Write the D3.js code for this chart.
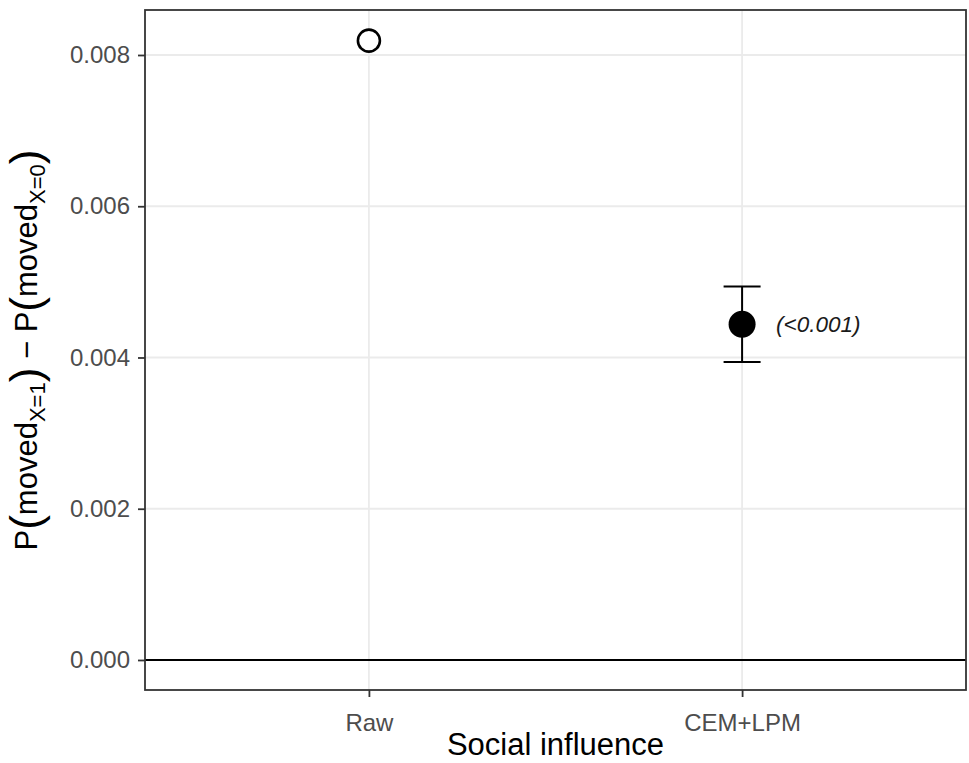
<!DOCTYPE html>
<html>
<head>
<meta charset="utf-8">
<script src="https://cdn.jsdelivr.net/npm/d3@7"></script>
<style>
  body { margin: 0; background: #fff; }
  svg { font-family: Arial, "Liberation Sans", sans-serif; }
</style>
</head>
<body>
<svg id="viz"></svg>
<script>
// data
const categories = ["Raw", "CEM+LPM"]
const estimates = [0.00819, 0.00444]
const lower = [null, 0.00394]
const upper = [null, 0.00494]
const filled = [false, true]
const pLabels = [null, "(<0.001)"]
const yTicks = [0, 0.002, 0.004, 0.006, 0.008]

const W = 969, H = 763
const margin = { top: 10, right: 3, bottom: 73, left: 145 }

const svg = d3.select("#viz").attr("width", W).attr("height", H)

const x = d3.scalePoint()
  .domain(categories)
  .range([margin.left, W - margin.right])
  .padding(0.6)

const y = d3.scaleLinear()
  .domain([-0.000397, 0.008595])
  .range([H - margin.bottom, margin.top])

const pw = W - margin.right - margin.left
const ph = H - margin.bottom - margin.top

// grid
svg.append("g").selectAll("line").data(yTicks).join("line")
  .attr("x1", margin.left).attr("x2", W - margin.right)
  .attr("y1", d => y(d)).attr("y2", d => y(d))
  .attr("stroke", "#ebebeb").attr("stroke-width", 1.8)
svg.append("g").selectAll("line").data(categories).join("line")
  .attr("x1", d => x(d)).attr("x2", d => x(d))
  .attr("y1", margin.top).attr("y2", H - margin.bottom)
  .attr("stroke", "#ebebeb").attr("stroke-width", 1.8)

// zero line
svg.append("line")
  .attr("x1", margin.left).attr("x2", W - margin.right)
  .attr("y1", y(0)).attr("y2", y(0))
  .attr("stroke", "#000").attr("stroke-width", 2)

// axes
const yAxis = svg.append("g")
  .attr("transform", `translate(${margin.left},0)`)
  .call(d3.axisLeft(y).tickValues(yTicks).tickFormat(d3.format(".3f")).tickSize(7).tickPadding(8))
const xAxis = svg.append("g")
  .attr("transform", `translate(0,${H - margin.bottom})`)
  .call(d3.axisBottom(x).tickSize(7).tickPadding(17))
;[yAxis, xAxis].forEach(g => {
  g.attr("font-family", null).attr("font-size", null)
  g.select(".domain").remove()
  g.selectAll(".tick line").attr("stroke", "#333").attr("stroke-width", 1.8)
  g.selectAll(".tick text").attr("fill", "#4d4d4d").attr("font-size", 24)
})

// panel border
svg.append("rect")
  .attr("x", margin.left).attr("y", margin.top)
  .attr("width", pw).attr("height", ph)
  .attr("fill", "none").attr("stroke", "#333").attr("stroke-width", 1.8)

// error bars
const rows = categories.map((c, i) => ({ c, est: estimates[i], lo: lower[i], hi: upper[i], filled: filled[i], p: pLabels[i] }))
const eb = svg.append("g").selectAll("g").data(rows.filter(d => d.lo != null)).join("g")
  .attr("stroke", "#000").attr("stroke-width", 2)
eb.append("line").attr("x1", d => x(d.c)).attr("x2", d => x(d.c))
  .attr("y1", d => y(d.lo)).attr("y2", d => y(d.hi))
eb.append("line").attr("x1", d => x(d.c) - 18.5).attr("x2", d => x(d.c) + 18.5)
  .attr("y1", d => y(d.hi)).attr("y2", d => y(d.hi))
eb.append("line").attr("x1", d => x(d.c) - 18.5).attr("x2", d => x(d.c) + 18.5)
  .attr("y1", d => y(d.lo)).attr("y2", d => y(d.lo))

// points
svg.append("g").selectAll("circle").data(rows).join("circle")
  .attr("cx", d => x(d.c)).attr("cy", d => y(d.est))
  .attr("r", d => d.filled ? 13.5 : 11)
  .attr("fill", d => d.filled ? "#000" : "#fff")
  .attr("stroke", "#000").attr("stroke-width", d => d.filled ? 0 : 2.6)

// p-value labels
svg.append("g").selectAll("text").data(rows.filter(d => d.p)).join("text")
  .attr("x", d => x(d.c) + 34).attr("y", d => y(d.est) + 8)
  .attr("font-size", 22.5).attr("font-style", "italic").attr("fill", "#1a1a1a")
  .text(d => d.p)

// axis titles
svg.append("text")
  .attr("x", margin.left + pw / 2).attr("y", 755)
  .attr("text-anchor", "middle").attr("font-size", 31).attr("fill", "#000")
  .text("Social influence")

const yt = svg.append("text")
  .attr("transform", `translate(37,${margin.top + ph / 2}) rotate(-90)`)
  .attr("text-anchor", "middle").attr("font-size", 31).attr("fill", "#000")
yt.append("tspan").text("P")
yt.append("tspan").attr("font-size", 44).attr("dy", 4).text("(")
yt.append("tspan").attr("dy", -4).text("moved")
yt.append("tspan").attr("font-size", 22).attr("dy", 8).text("X=1")
yt.append("tspan").attr("font-size", 44).attr("dy", -4).text(")")
yt.append("tspan").attr("dy", -4).text(" \u2212 P")
yt.append("tspan").attr("font-size", 44).attr("dy", 4).text("(")
yt.append("tspan").attr("dy", -4).text("moved")
yt.append("tspan").attr("font-size", 22).attr("dy", 8).text("X=0")
yt.append("tspan").attr("font-size", 44).attr("dy", -4).text(")")
</script>
</body>
</html>
